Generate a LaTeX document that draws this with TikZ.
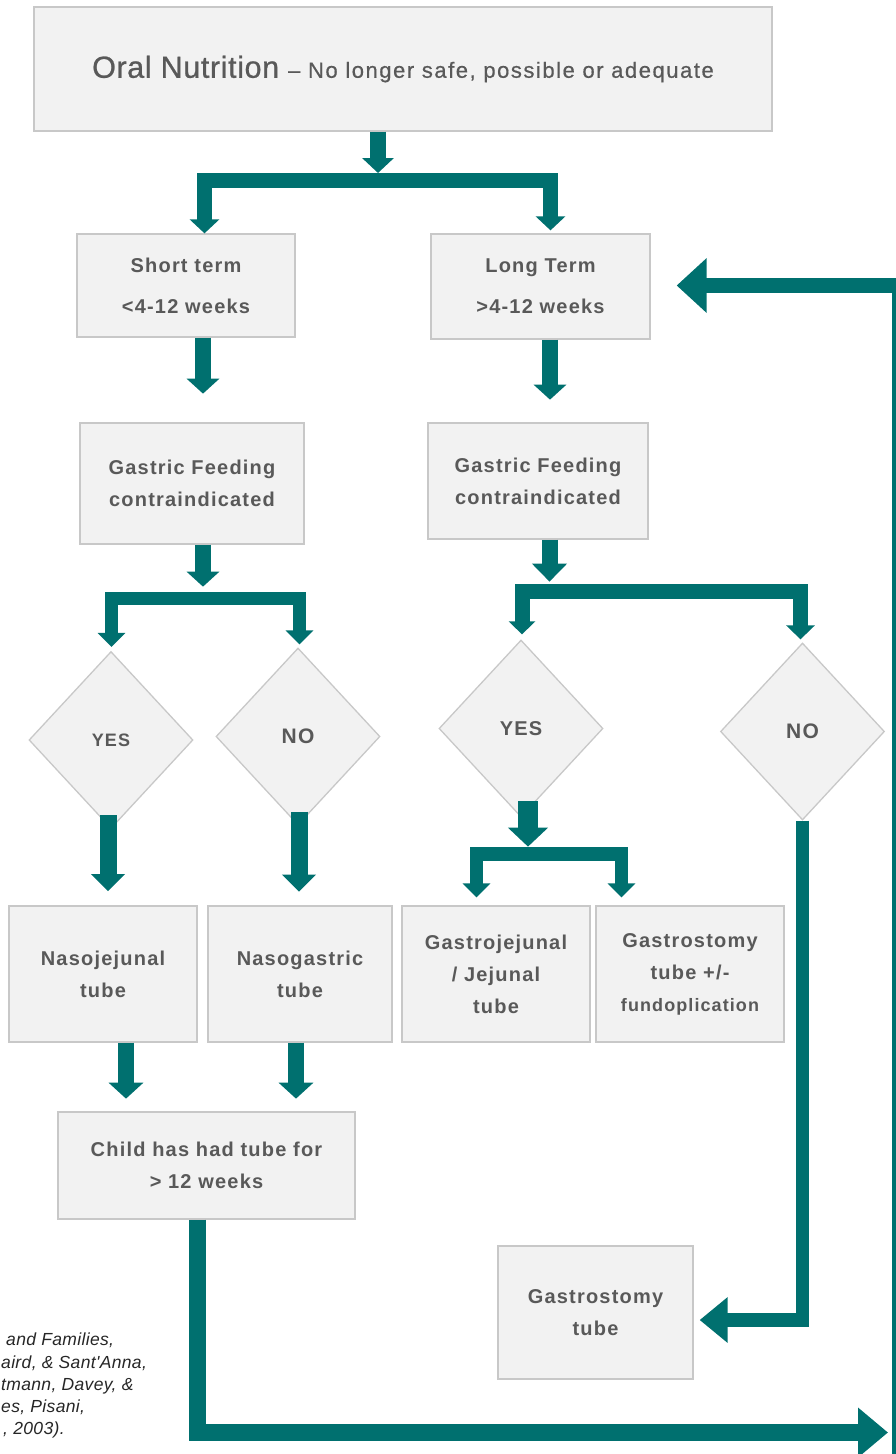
\documentclass[tikz,border=0pt]{standalone}
\usepackage{fontspec}
\setmainfont{Liberation Sans}
\newfontfamily\boxfont{Liberation Sans}[LetterSpace=6]
\newfontfamily\titlefont{Liberation Sans}[LetterSpace=2,FakeBold=0.8]
\newfontfamily\subfont{Liberation Sans}[LetterSpace=7,FakeBold=0.6]
\newfontfamily\citefont{Liberation Sans}[LetterSpace=2]
\usetikzlibrary{arrows.meta,shapes.geometric}

\definecolor{flowteal}{HTML}{00706F}
\definecolor{boxfill}{HTML}{F2F2F2}
\definecolor{boxline}{HTML}{C8C8C8}
\definecolor{boxtext}{HTML}{595959}
\definecolor{citetext}{HTML}{262626}

\tikzset{
  box/.style={rectangle, draw=boxline, fill=boxfill, line width=1.3pt, inner sep=0pt,
    text=boxtext, align=center, font=\boxfont\bfseries\fontsize{20}{32}\selectfont},
  decision/.style={diamond, draw=boxline, fill=boxfill, line width=1.3pt, inner sep=0pt,
    minimum width=164pt, minimum height=177pt, text=boxtext,
    font=\boxfont\bfseries\fontsize{20}{24}\selectfont},
  arr/.style={draw=flowteal, line width=16pt, -{Triangle[width=32pt,length=15pt]}},
  brk/.style={draw=flowteal, line width=14pt, line join=miter, -{Triangle[width=29pt,length=14pt]}},
  darr/.style={draw=flowteal, line width=17pt, -{Triangle[width=33pt,length=17pt]}},
  cite/.style={inner sep=0pt, text=citetext, font=\citefont\itshape\fontsize{17.5}{22}\selectfont},
}

\begin{document}
\begin{tikzpicture}[x=1pt, y=-1pt]
\useasboundingbox (0,0) rectangle (896,1454);

% boxes
\node[box, minimum width=738pt, minimum height=124pt] (title) at (403,69)
  {\raisebox{4pt}{\titlefont\mdseries\fontsize{30.5}{34}\selectfont Oral Nutrition}\hspace{9pt}%
   \raisebox{4pt}{\subfont\mdseries\fontsize{22}{26}\selectfont – No longer safe, possible or adequate}};

\node[box, minimum width=218pt, minimum height=103pt, font=\boxfont\bfseries\fontsize{20}{41}\selectfont]
  (short) at (186,285.5) {Short term\\<4-12 weeks};
\node[box, minimum width=219pt, minimum height=105pt, font=\boxfont\bfseries\fontsize{20}{41}\selectfont]
  (long) at (540.5,286.5) {Long Term\\>4-12 weeks};

\node[box, minimum width=224pt, minimum height=121pt] (gfl) at (192,483.5) {Gastric Feeding\\contraindicated};
\node[box, minimum width=220pt, minimum height=116pt] (gfr) at (538,481) {Gastric Feeding\\contraindicated};

\node[decision, font=\boxfont\bfseries\fontsize{18}{22}\selectfont] (yesL) at (111,740) {YES};
\node[decision, font=\boxfont\bfseries\fontsize{21}{24}\selectfont] (noL) at (298,736.5) {NO};
\node[decision] (yesR) at (521,728.5) {YES};
\node[decision, font=\boxfont\bfseries\fontsize{21}{24}\selectfont] (noR) at (802.5,731.5) {NO};

\node[box, minimum width=188pt, minimum height=136pt] (nj) at (103,974) {Nasojejunal\\tube};
\node[box, minimum width=184pt, minimum height=136pt] (ng) at (300,974) {Nasogastric\\tube};
\node[box, minimum width=188pt, minimum height=136pt] (gj) at (496,974) {Gastrojejunal\\/ Jejunal\\tube};
\node[box, minimum width=188pt, minimum height=136pt] (gs) at (690,974)
  {Gastrostomy\\tube +/-\\{\fontsize{18}{32}\selectfont fundoplication}};

\node[box, minimum width=297pt, minimum height=107pt] (child) at (206.5,1165.5) {Child has had tube for\\> 12 weeks};
\node[box, minimum width=195pt, minimum height=133pt] (gt) at (595.5,1312.5) {Gastrostomy\\tube};

% reference lines at the lower left
\node[cite, anchor=base west] (c1) at (6,1345) {and Families,};
\node[cite, anchor=base west] (c2) at (1,1368) {aird, \& Sant'Anna,};
\node[cite, anchor=base west] (c3) at (1,1390) {tmann, Davey, \&};
\node[cite, anchor=base west] (c4) at (1,1412) {es, Pisani,};
\node[cite, anchor=base west] (c5) at (3,1434) {, 2003).};

% junction points of the split arrows
\coordinate (j1) at (378,180);
\coordinate (j2) at (203,598.5);
\coordinate (j3) at (549.5,591);
\coordinate (j4) at (528,854);
\coordinate (rjoin) at (888,1432.5);
\coordinate (rfoot) at (899.5,1470);

% top split
\draw[arr, line width=16pt, -{Triangle[width=31pt,length=15pt]}] (title.south -| j1) -- ([yshift=7pt]j1);
\draw[brk, line width=15pt] (j1) -| ([xshift=18.5pt]short.north);
\draw[brk, line width=15pt] (j1) -| ([xshift=10pt,yshift=3pt]long.north);

% down the two columns
\draw[arr] ([xshift=17pt]short.south) -- ++(0,56);
\draw[arr] ([xshift=9.5pt]long.south) -- ++(0,60);
\draw[arr] ([xshift=11pt]gfl.south) -- ++(0,42);
\draw[arr, -{Triangle[width=34pt,length=18pt]}] ([xshift=11.5pt]gfr.south) -- ++(0,42);

% left decision split
\draw[brk, line width=13.5pt, -{Triangle[width=27pt,length=14pt]}] (j2) -| ([xshift=0.5pt,yshift=4pt]yesL.north);
\draw[brk, line width=13.5pt, -{Triangle[width=27pt,length=14pt]}] (j2) -| ([xshift=1.5pt,yshift=3pt]noL.north);

% right decision split
\draw[brk, line width=15pt, -{Triangle[width=26pt,length=13pt]}] (j3) -| ([xshift=1pt,yshift=5pt]yesR.north);
\draw[brk, line width=15pt, -{Triangle[width=28pt,length=14pt]}] (j3) -| ([xshift=-2pt,yshift=3pt]noR.north);

% out of the left decisions
\draw[darr] ([xshift=-3pt,yshift=14pt]yesL.south) -- ++(0,76);
\draw[darr] ([xshift=1pt,yshift=14pt]noL.south) -- ++(0,80);

% yes on the right splits again
\draw[draw=flowteal, line width=20pt, -{Triangle[width=39pt,length=19pt]}] ([xshift=7pt,yshift=17pt]yesR.south) -- ++(0,46);
\draw[brk, line width=13.5pt, -{Triangle[width=27pt,length=14pt]}] (j4) -| ([xshift=-19.5pt,yshift=8pt]gj.north);
\draw[brk, line width=13.5pt, -{Triangle[width=27pt,length=14pt]}] (j4) -| ([xshift=-68.5pt,yshift=8pt]gs.north);

% no on the right goes down to the gastrostomy tube
\draw[draw=flowteal, line width=13.5pt, line join=miter, -{Triangle[width=44pt,length=28pt]}]
  (noR.south) |- ([xshift=6pt,yshift=-7.5pt]gt.east);

% tubes to the duration check
\draw[arr, -{Triangle[width=34pt,length=16pt]}] ([xshift=23pt]nj.south) -- ++(0,56);
\draw[arr, -{Triangle[width=34pt,length=16pt]}] ([xshift=-4pt]ng.south) -- ++(0,56);

% over 12 weeks: loop back to long term
\draw[draw=flowteal, line width=17pt, line join=miter, -{Triangle[width=48pt,length=30pt]}]
  ([xshift=-9pt]child.south) |- (rjoin);
\draw[draw=flowteal, line width=15pt, line join=miter, -{Triangle[width=53pt,length=30pt]}]
  (rfoot) |- ([xshift=26pt,yshift=1pt]long.east);
\end{tikzpicture}
\end{document}
